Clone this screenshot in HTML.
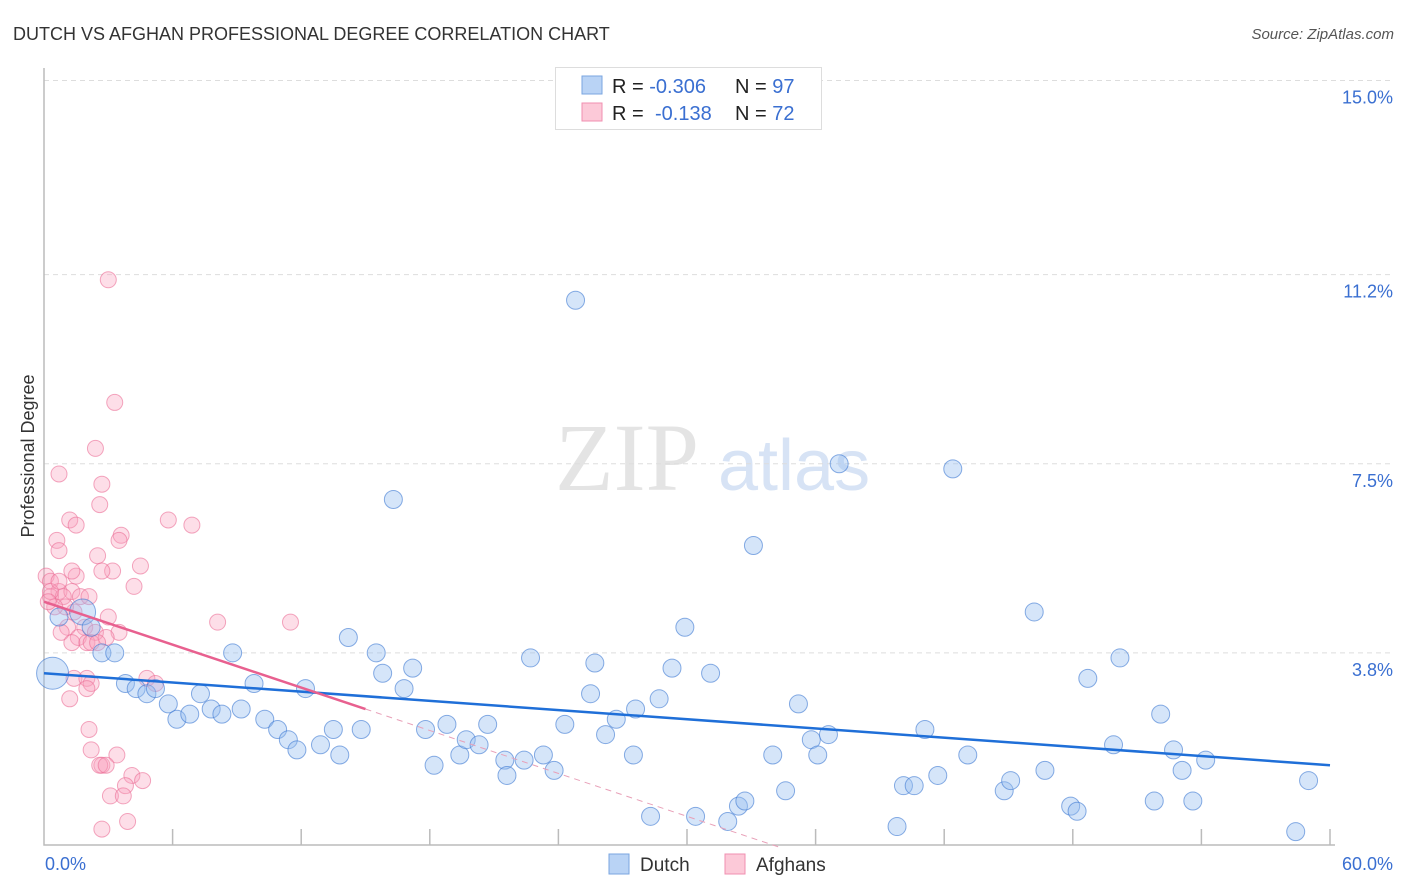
<!DOCTYPE html>
<html><head><meta charset="utf-8"><style>
body{margin:0;background:#fff;font-family:"Liberation Sans",sans-serif;}
svg{display:block}
</style></head><body>
<svg id="c" width="1406" height="892" xmlns="http://www.w3.org/2000/svg">
<text x="13" y="40" font-size="18" fill="#333">DUTCH VS AFGHAN PROFESSIONAL DEGREE CORRELATION CHART</text>
<text x="1394" y="39" font-size="15" fill="#555" font-style="italic" text-anchor="end">Source: ZipAtlas.com</text>
<text x="555" y="490" font-size="96" fill="#e4e4e4" font-family="Liberation Serif,serif">ZIP</text>
<text x="718" y="490" font-size="72" fill="#d7e3f5">atlas</text>
<text x="34" y="456" font-size="18" fill="#333" transform="rotate(-90 34 456)" text-anchor="middle">Professional Degree</text>
<g id="grid"></g>
<g id="axes"></g>
<g id="pts"></g>
<g id="lines"></g>
<g>
<rect x="555.5" y="67.5" width="266" height="62" fill="#fff" stroke="#ddd"/>
<rect x="582" y="76" width="20" height="18" fill="#b9d3f5" stroke="#7aa6e0"/>
<rect x="582" y="103" width="20" height="18" fill="#fcc9d8" stroke="#f08fb0"/>
<text x="612" y="93" font-size="20" fill="#222">R = <tspan fill="#3a6fd1">-0.306</tspan><tspan x="735">N = </tspan><tspan fill="#3a6fd1">97</tspan></text>
<text x="612" y="120" font-size="20" fill="#222">R = <tspan x="655" fill="#3a6fd1">-0.138</tspan><tspan x="735">N = </tspan><tspan fill="#3a6fd1">72</tspan></text>
</g>
<g>
<rect x="609" y="854" width="20" height="20" fill="#b9d3f5" stroke="#7aa6e0"/>
<text x="640" y="871" font-size="19" fill="#333">Dutch</text>
<rect x="725" y="854" width="20" height="20" fill="#fcc9d8" stroke="#f08fb0"/>
<text x="756" y="871" font-size="19" fill="#333">Afghans</text>
</g>
</svg>
<script>
const yTicks=[3.8,7.5,11.2,15.0];
const yTickLabels=["3.8%","7.5%","11.2%","15.0%"];
const xTickLabels=["0.0%","60.0%"];
const dutchX=[0.4,1.8,0.7,2.2,2.7,3.3,3.8,4.3,4.8,5.2,5.8,6.2,6.8,7.3,7.8,8.3,8.8,9.2,9.8,10.3,10.9,11.4,11.8,12.2,12.9,13.5,13.8,14.2,14.8,15.5,15.8,16.3,16.8,17.2,17.8,18.2,18.8,19.4,19.7,20.3,20.7,21.5,21.6,22.4,22.7,23.3,23.8,24.3,24.8,25.5,25.7,26.2,26.7,27.5,27.6,28.3,28.7,29.3,29.9,30.4,31.1,31.9,32.4,32.7,33.1,34.0,34.6,35.2,35.8,36.1,36.6,37.1,39.8,40.1,40.6,41.1,41.7,42.4,43.1,44.8,45.1,46.2,46.7,47.9,48.2,48.7,49.9,50.2,51.8,52.1,52.7,53.1,53.6,54.2,58.4,59.0];
const dutchY=[3.4,4.6,4.5,4.3,3.8,3.8,3.2,3.1,3.0,3.1,2.8,2.5,2.6,3.0,2.7,2.6,3.8,2.7,3.2,2.5,2.3,2.1,1.9,3.1,2.0,2.3,1.8,4.1,2.3,3.8,3.4,6.8,3.1,3.5,2.3,1.6,2.4,1.8,2.1,2.0,2.4,1.7,1.4,1.7,3.7,1.8,1.5,2.4,10.7,3.0,3.6,2.2,2.5,1.8,2.7,0.6,2.9,3.5,4.3,0.6,3.4,0.5,0.8,0.9,5.9,1.8,1.1,2.8,2.1,1.8,2.2,7.5,0.4,1.2,1.2,2.3,1.4,7.4,1.8,1.1,1.3,4.6,1.5,0.8,0.7,3.3,2.0,3.7,0.9,2.6,1.9,1.5,0.9,1.7,0.3,1.3];
const dutchR=[16,13,9,9,9,9,9,9,9,9,9,9,9,9,9,9,9,9,9,9,9,9,9,9,9,9,9,9,9,9,9,9,9,9,9,9,9,9,9,9,9,9,9,9,9,9,9,9,9,9,9,9,9,9,9,9,9,9,9,9,9,9,9,9,9,9,9,9,9,9,9,9,9,9,9,9,9,9,9,9,9,9,9,9,9,9,9,9,9,9,9,9,9,9,9,9];
const afgX=[3.0,3.3,2.4,0.7,2.7,2.6,1.2,1.5,5.8,6.9,3.6,3.5,0.6,0.7,2.5,4.5,0.1,3.2,2.7,1.5,4.2,0.3,0.7,1.3,0.3,0.9,1.7,2.1,3.0,8.1,11.5,1.4,1.1,1.9,2.4,3.5,0.8,1.6,2.9,1.3,2.0,2.2,2.5,4.8,5.2,1.4,2.0,2.2,2.0,1.2,2.1,2.2,2.7,2.6,3.4,2.9,4.1,3.8,4.6,3.1,3.7,3.9,2.7,1.0,0.5,0.3,0.7,1.3,0.2];
const afgY=[11.1,8.7,7.8,7.3,7.1,6.7,6.4,6.3,6.4,6.3,6.1,6.0,6.0,5.8,5.7,5.5,5.3,5.4,5.4,5.3,5.1,5.2,5.0,5.0,4.9,4.9,4.9,4.9,4.5,4.4,4.4,4.6,4.3,4.3,4.2,4.2,4.2,4.1,4.1,4.0,4.0,4.0,4.0,3.3,3.2,3.3,3.3,3.2,3.1,2.9,2.3,1.9,1.6,1.6,1.8,1.6,1.4,1.2,1.3,1.0,1.0,0.5,0.35,4.7,4.7,5.0,5.2,5.4,4.8];
const dutchTrend=[3.4,1.6];
const afgTrend=[4.8,2.7];
const afgTrendEnd=15;
const x0=44,x1=1330,yb=847,pxPerPct=51.1;
const X=v=>x0+(x1-x0)*v/60;
const Y=v=>yb-v*pxPerPct;
const NS="http://www.w3.org/2000/svg";
function mk(tag,attrs,parent){const e=document.createElementNS(NS,tag);for(const k in attrs)e.setAttribute(k,attrs[k]);document.getElementById(parent).appendChild(e);return e;}
yTicks.forEach((t,i)=>{
 const g=mk('line',{x1:x0,x2:1393,y1:Y(t),y2:Y(t),stroke:'#ddd','stroke-dasharray':'5,4'},'grid');
 
 
 const l=mk('text',{x:1393,y:Y(t)+23,'font-size':18,fill:'#3a6fd1','text-anchor':'end'},'grid');
 l.textContent=yTickLabels[i];
 
 
});
const ax=mk('path',{d:`M${x0} 68V845H1335`,fill:'none',stroke:'#bbb','stroke-width':1.5},'axes');


for(let i=1;i<=10;i++){const t=mk('line',{x1:X(i*6)-0.5*0,x2:X(i*6),y1:829,y2:845,stroke:'#bbb','stroke-width':1.5},'axes');
 
 }
[[0,'start',45],[60,'end',1393]].forEach((a,i)=>{const t=mk('text',{x:a[2],y:870,'font-size':18,fill:'#3a6fd1','text-anchor':a[1]},'axes');t.textContent=xTickLabels[i];
 
 });
afgX.forEach((v,i)=>{const c=mk('circle',{cx:X(v),cy:Y(afgY[i]),r:8,fill:'rgba(248,160,190,0.35)',stroke:'rgba(235,110,150,0.6)'},'pts');
 
 });
dutchX.forEach((v,i)=>{const c=mk('circle',{cx:X(v),cy:Y(dutchY[i]),r:dutchR[i],fill:'rgba(150,190,240,0.4)',stroke:'rgba(60,120,210,0.6)'},'pts');
 
 });
const dl=mk('line',{x1:X(0),y1:Y(dutchTrend[0]),x2:X(60),y2:Y(dutchTrend[1]),stroke:'#1f6fd8','stroke-width':2.5},'lines');


const slope=(afgTrend[1]-afgTrend[0])/afgTrendEnd;
const al=mk('line',{x1:X(0),y1:Y(afgTrend[0]),x2:X(afgTrendEnd),y2:Y(afgTrend[1]),stroke:'#e8608f','stroke-width':2.5},'lines');


const xe=-afgTrend[0]/slope;
const ad=mk('line',{x1:X(afgTrendEnd),y1:Y(afgTrend[1]),x2:X(xe),y2:Y(0),stroke:'#e8a0b8','stroke-width':1,'stroke-dasharray':'6,5'},'lines');


</script>
</body></html>
